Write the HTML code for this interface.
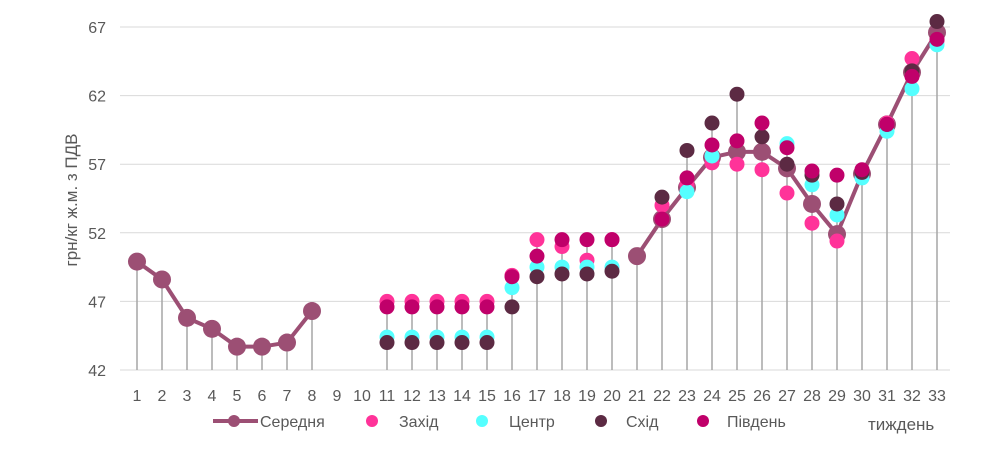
<!DOCTYPE html>
<html><head><meta charset="utf-8"><style>
body{margin:0;background:#fff;width:990px;height:462px;overflow:hidden}
svg{font-family:"Liberation Sans",sans-serif}
</style></head><body>
<svg id="s" width="990" height="462" xmlns="http://www.w3.org/2000/svg"></svg>
<script>
const s=document.getElementById('s');
const X=w=>137+(w-1)*25, Y=v=>370-(v-42)*13.72;
let h='';
[42,47,52,57,62,67].forEach(v=>{h+=`<line x1="120" x2="950" y1="${Y(v)}" y2="${Y(v)}" stroke="#d9d9d9"/>`;
h+=`<text x="106" y="${Y(v)+6}" text-anchor="end" font-size="16" fill="#595959">${v}</text>`;});
for(let w=1;w<=33;w++)h+=`<text x="${X(w)}" y="401" text-anchor="middle" font-size="16" fill="#595959">${w}</text>`;
h+=`<text transform="translate(77,200) rotate(-90)" text-anchor="middle" font-size="17" fill="#595959">грн/кг ж.м. з ПДВ</text>`;
const avg={1:49.9,2:48.6,3:45.8,4:45,5:43.7,6:43.7,7:44,8:46.3,21:50.3,22:53,23:55.3,24:57.5,25:57.9,26:57.9,27:56.7,28:54.1,29:51.9,30:56.3,31:59.9,32:63.7,33:66.6};
const z={11:47,12:47,13:47,14:47,15:47,16:48.9,17:51.5,18:51,19:50,20:51.5,22:54,23:55.5,24:57.1,25:57,26:56.6,27:54.9,28:52.7,29:51.4,30:56.5,31:60,32:64.7,33:66};
const c={11:44.4,12:44.4,13:44.4,14:44.4,15:44.4,16:48,17:49.5,18:49.5,19:49.5,20:49.5,23:55,24:57.6,27:58.5,28:55.5,29:53.3,30:56,31:59.4,32:62.5,33:65.7};
const e={11:44,12:44,13:44,14:44,15:44,16:46.6,17:48.8,18:49,19:49,20:49.2,22:54.6,23:58,24:60,25:62.1,26:59,27:57,28:56.2,29:54.1,30:56.4,31:59.9,32:63.8,33:67.4};
const p={11:46.6,12:46.6,13:46.6,14:46.6,15:46.6,16:48.8,17:50.3,18:51.5,19:51.5,20:51.5,22:53,23:56,24:58.4,25:58.7,26:60,27:58.2,28:56.5,29:56.2,30:56.6,31:59.9,32:63.4,33:66.1};
for(let w=1;w<=33;w++){let m=null;[avg,z,c,e,p].forEach(d=>{if(d[w]!=null&&(m==null||d[w]>m))m=d[w]});
if(m!=null)h+=`<line x1="${X(w)}" x2="${X(w)}" y1="${Y(m)}" y2="370" stroke="#a6a6a6" stroke-width="1.5"/>`;}
const seg=[[1,8],[21,33]];
seg.forEach(([a,b])=>{let pts=[];for(let w=a;w<=b;w++)pts.push(X(w)+','+Y(avg[w]));h+=`<polyline points="${pts.join(' ')}" fill="none" stroke="#9c4f74" stroke-width="4"/>`;});
for(const w in avg)h+=`<circle cx="${X(+w)}" cy="${Y(avg[w])}" r="9" fill="#9c4f74"/>`;
[[z,'#ff3399'],[c,'#55ffff'],[e,'#5c2a43'],[p,'#c0006a']].forEach(([d,col])=>{for(const w in d)h+=`<circle cx="${X(+w)}" cy="${Y(d[w])}" r="7.5" fill="${col}"/>`;});
// legend
h+=`<line x1="213" x2="258" y1="421" y2="421" stroke="#9c4f74" stroke-width="4"/><circle cx="234" cy="421" r="6" fill="#9c4f74"/>`;
h+=`<text x="260" y="427" font-size="16" fill="#595959">Середня</text>`;
[['#ff3399',372,399,'Захід'],['#55ffff',482,509,'Центр'],['#5c2a43',601,626,'Схід'],['#c0006a',703,727,'Південь']].forEach(([col,x,tx,t])=>{
h+=`<circle cx="${x}" cy="421" r="6" fill="${col}"/><text x="${tx}" y="427" font-size="16" fill="#595959">${t}</text>`;});
h+=`<text x="868" y="430" font-size="17" fill="#595959">тиждень</text>`;
s.innerHTML=h;
</script>
</body></html>
